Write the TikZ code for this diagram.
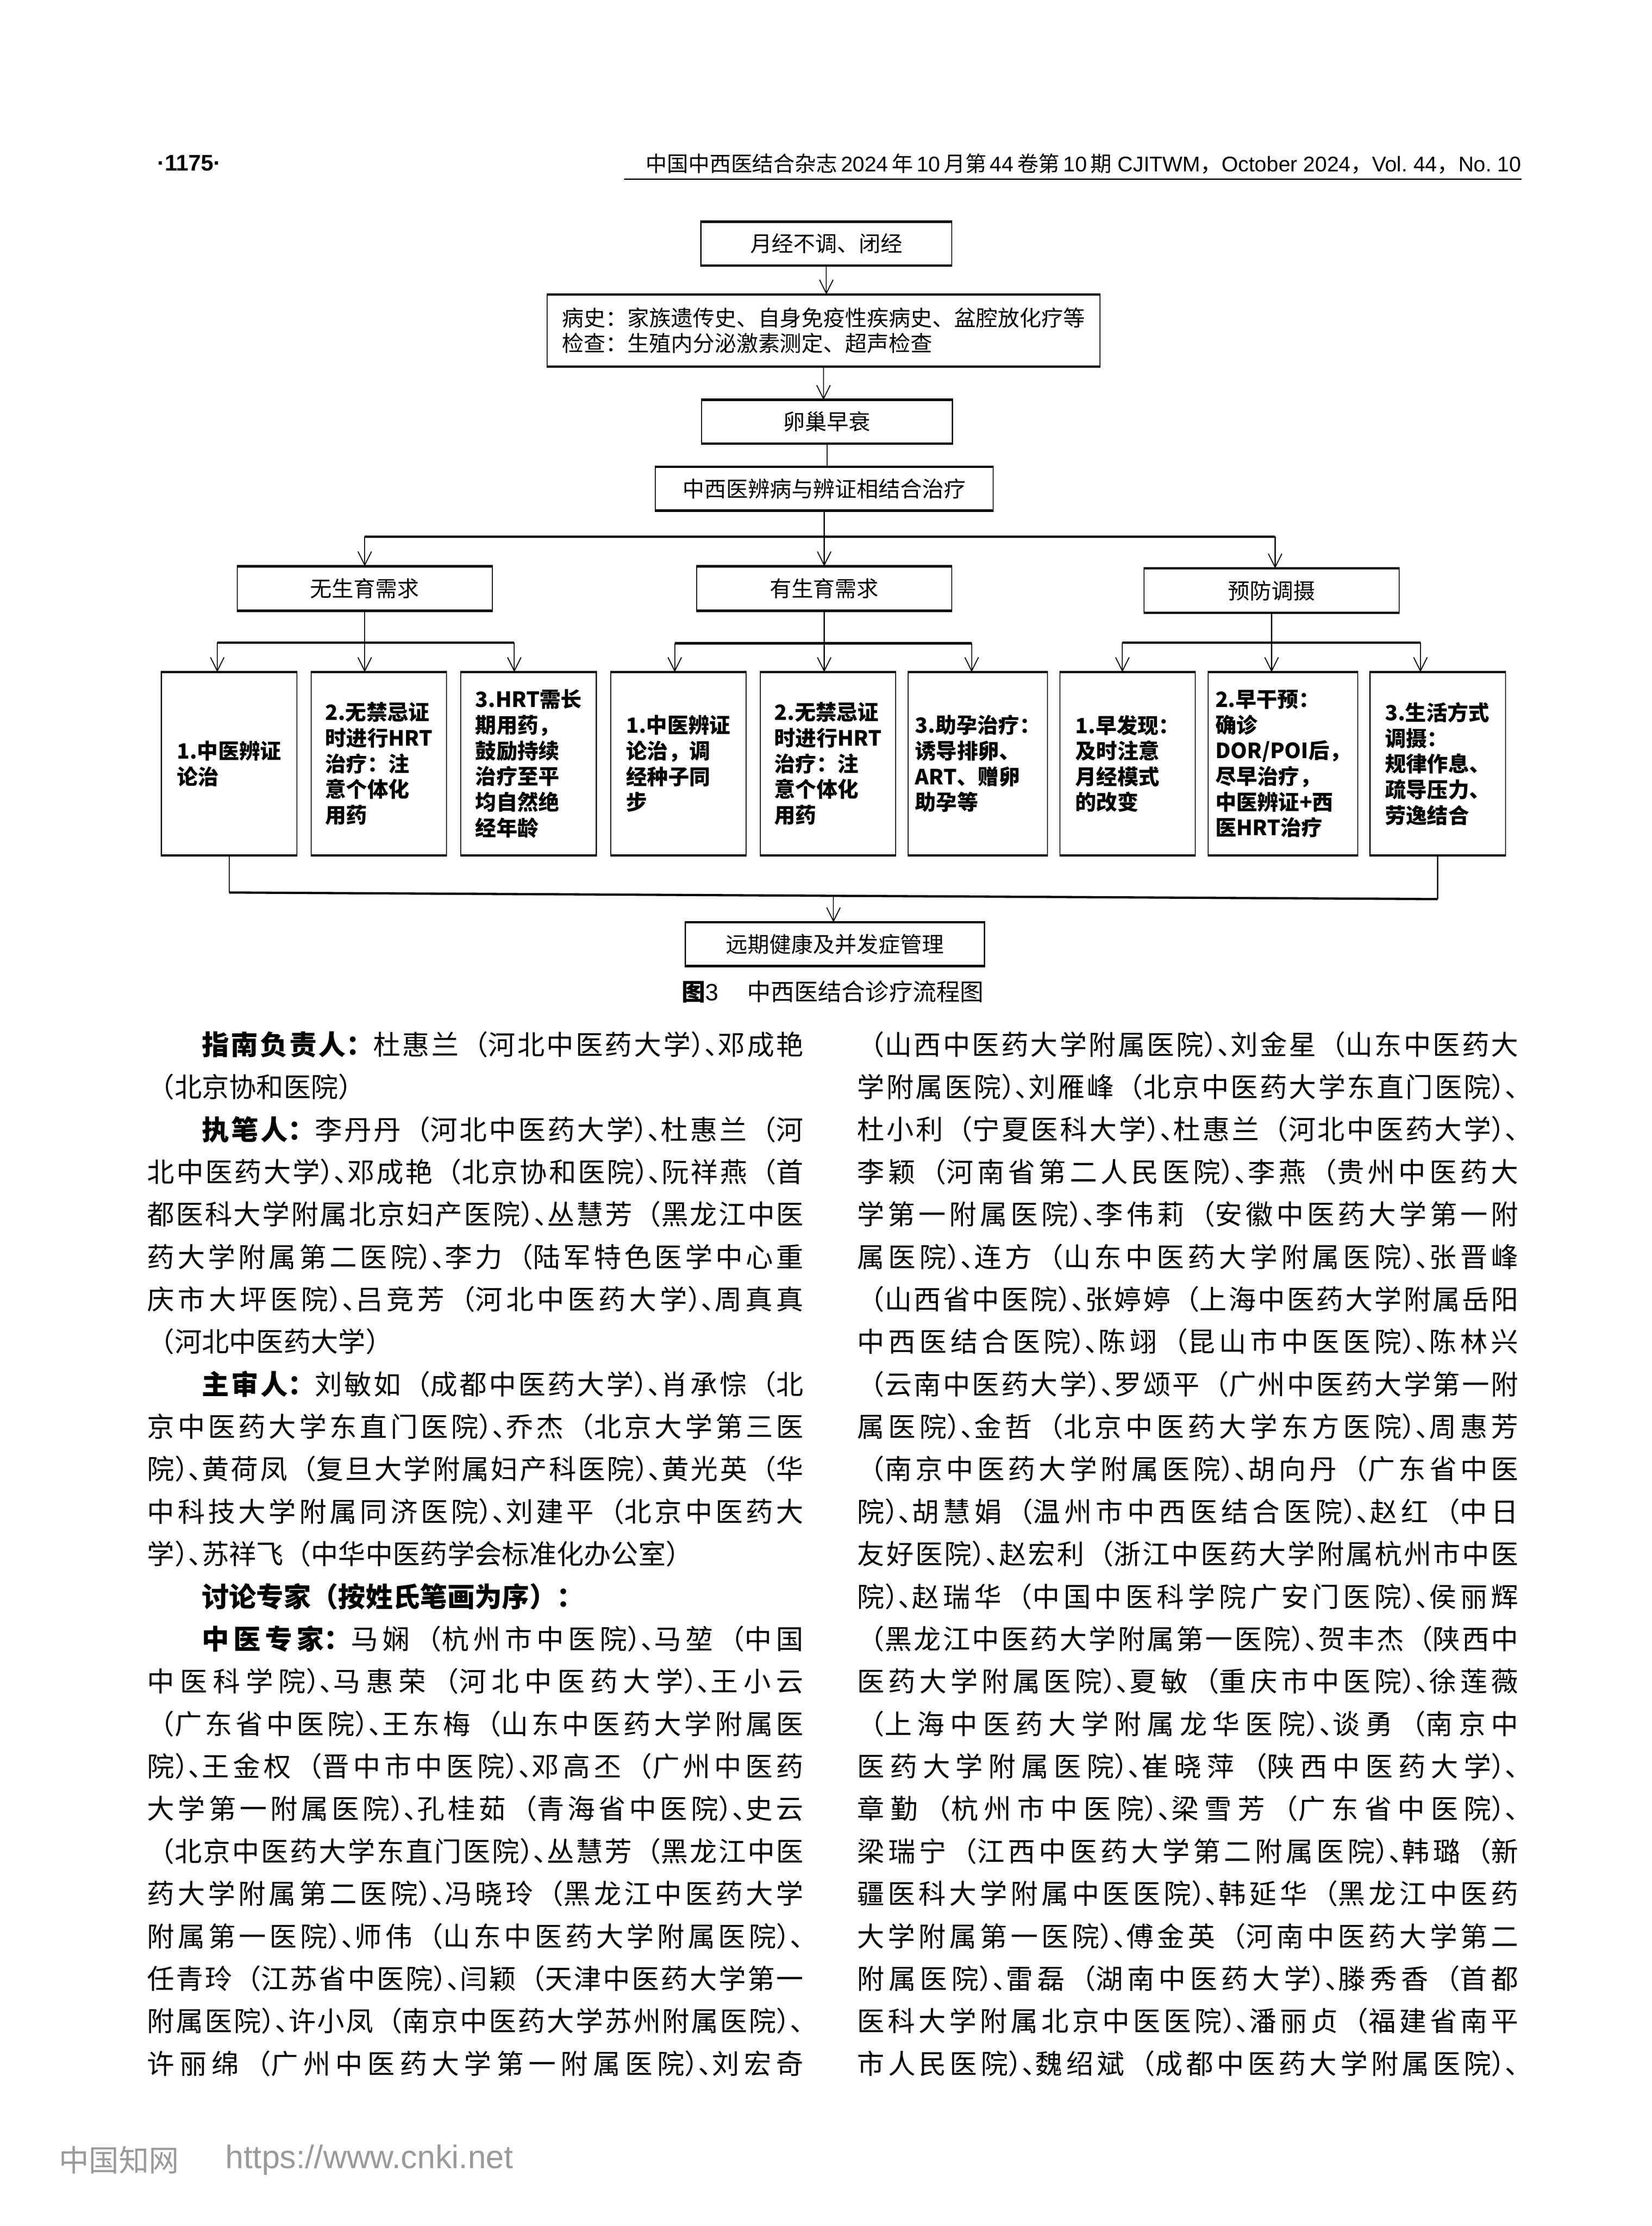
\documentclass[tikz,border=0pt]{standalone}
\usepackage{fontspec}
\setmainfont{Noto Sans CJK SC}
\newfontfamily\latin{Liberation Sans}
\usetikzlibrary{arrows.meta, positioning}
\XeTeXlinebreaklocale "zh"
\XeTeXlinebreakskip=0pt plus 5pt
\definecolor{cnkigray}{HTML}{9A9A9A}
\newcommand\boxfont{\fontsize{8.7pt}{10.1pt}\selectfont}
\newcommand\leaffont{\fontsize{8.4pt}{10.25pt}\selectfont\bfseries}
\newcommand\bodyfont{\fontsize{10.9pt}{12.5pt}\selectfont}
\newcommand\ind{\hspace*{2em}}
\newcommand\lastln[1]{\makebox[\hsize][l]{#1}}
\newcommand\closepause{\makebox[1em][l]{\makebox[0.5em][l]{）}、}}
\ExplSyntaxOn
\tl_new:N \l_squeeze_tl
\NewDocumentCommand \squeeze { m }
  {
    \tl_set:No \l_squeeze_tl { #1 }
    \tl_replace_all:Nnn \l_squeeze_tl { ）、 } { \closepause }
    \tl_use:N \l_squeeze_tl
  }
\ExplSyntaxOff
\tikzstyle{mainbox} = [rectangle, draw, line width=0.4pt, minimum width=35.2mm, minimum height=6mm, inner sep=1mm, font=\boxfont]
\tikzstyle{leaf} = [rectangle, draw, line width=0.4pt, minimum width=19mm, minimum height=25.6mm, inner sep=1mm, align=left, font=\leaffont]
\tikzstyle{rimline} = [line width=1pt]
\tikzstyle{flowline} = [line width=0.4pt]
\tikzstyle{flowarrow} = [line width=0.4pt, -{Straight Barb[length=1.9mm, width=1.9mm]}]
\tikzstyle{crossbar} = [line width=0.9pt]
\tikzstyle{bodyline} = [anchor=west, inner sep=0pt, align=justify, font=\bodyfont, execute at begin node={\noindent\parfillskip=0pt\relax}]

\begin{document}
\begin{tikzpicture}[x=0.2mm, y=-0.2mm, node distance=21.02mm]
\fill[white] (0,0) rectangle (1159.5,1562.3);

\node (pageno) [anchor=west, inner sep=0pt, font=\latin\bfseries\fontsize{9pt}{10pt}\selectfont] at (110,114.5) {·1175·};
\node (journal) [anchor=east, inner sep=0pt, font=\fontsize{8.5pt}{10pt}\selectfont] at (1068,115) {中国中西医结合杂志{\latin\,2024\,}年{\latin\,10\,}月第{\latin\,44\,}卷第{\latin\,10\,}期{\latin\ CJITWM}，{\latin October 2024}，{\latin Vol.\ 44}，{\latin No.\ 10}};
\coordinate (rulel) at (438,125.7);
\coordinate (ruler) at (1068,125.7);
\draw[line width=0.5pt] (rulel) -- (ruler);

\node (sym) [mainbox] at (580,171) {月经不调、闭经};
\node (hist) [mainbox, minimum width=77.6mm, minimum height=10mm, align=left] at (578,232) {病史：家族遗传史、自身免疫性疾病史、盆腔放化疗等\\检查：生殖内分泌激素测定、超声检查};
\node (poi) [mainbox] at (580.5,296) {卵巢早衰};
\node (integ) [mainbox, minimum width=47.4mm] at (578.5,343) {中西医辨病与辨证相结合治疗};
\node (nofert) [mainbox, minimum width=35.8mm, minimum height=6.1mm] at (256,413) {无生育需求};
\node (fert) [mainbox, minimum width=35.8mm, minimum height=6.1mm] at (578.5,413) {有生育需求};
\node (prev) [mainbox, minimum width=35.8mm, minimum height=6.1mm] at (892.5,414.5) {预防调摄};

\node (t1) [leaf] at (160.8,536) {1.中医辨证\\论治};
\node (t2) [leaf, right of=t1] {2.无禁忌证\\时进行HRT\\治疗：注\\意个体化\\用药};
\node (t3) [leaf, right of=t2] {3.HRT需长\\期用药，\\鼓励持续\\治疗至平\\均自然绝\\经年龄};
\node (t4) [leaf, right of=t3] {1.中医辨证\\论治，调\\经种子同\\步};
\node (t5) [leaf, right of=t4] {2.无禁忌证\\时进行HRT\\治疗：注\\意个体化\\用药};
\node (t6) [leaf, right of=t5] {3.助孕治疗：\\诱导排卵、\\ART、赠卵\\助孕等};
\node (t7) [leaf, right of=t6] {1.早发现：\\及时注意\\月经模式\\的改变};
\node (t8) [leaf, right of=t7, xshift=0.8mm, minimum width=20.2mm] {2.早干预：\\确诊\\DOR/POI后，\\尽早治疗，\\中医辨证+西\\医HRT治疗};
\node (t9) [leaf, right of=t8, xshift=0.7mm] {3.生活方式\\调摄：\\规律作息、\\疏导压力、\\劳逸结合};

\node (fup) [mainbox, minimum width=42mm] at (586,662.6) {远期健康及并发症管理};

\foreach \n in {sym,hist,poi,integ,nofert,fert,prev,t1,t2,t3,t4,t5,t6,t7,t8,t9,fup}
  \draw[rimline] (\n.north west) -- (\n.north east) (\n.south west) -- (\n.south east);

\draw[flowarrow] (sym.south) -- (sym.south |- hist.north);
\draw[flowarrow] (hist.south) -- (hist.south |- poi.north);
\draw[flowline] (poi.south) -- (poi.south |- integ.north);

\coordinate (top0) at (256,376.6);
\coordinate (top1) at (895,376.6);
\draw[crossbar] (top0) -- (top1);
\draw[flowarrow] (integ.south) -- (integ.south |- fert.north);
\draw[flowarrow] (top0) -- (top0 |- nofert.north);
\draw[flowarrow] (top1) -- (top1 |- prev.north);

\coordinate (g1l) at (152.5,451);
\coordinate (g1r) at (361,451);
\coordinate (g2l) at (473.6,451.5);
\coordinate (g2r) at (682,451.5);
\coordinate (g3l) at (787.8,451);
\coordinate (g3r) at (997,451);
\draw[crossbar] (g1l) -- (g1r);
\draw[crossbar] (g2l) -- (g2r);
\draw[crossbar] (g3l) -- (g3r);
\draw[flowarrow] (nofert.south) -- (nofert.south |- t2.north);
\draw[flowarrow] (g1l) -- (g1l |- t1.north);
\draw[flowarrow] (g1r) -- (g1r |- t3.north);
\draw[flowarrow] (fert.south) -- (fert.south |- t5.north);
\draw[flowarrow] (g2l) -- (g2l |- t4.north);
\draw[flowarrow] (g2r) -- (g2r |- t6.north);
\draw[flowarrow] (prev.south) -- (prev.south |- t8.north);
\draw[flowarrow] (g3l) -- (g3l |- t7.north);
\draw[flowarrow] (g3r) -- (g3r |- t9.north);

\coordinate (bl) at (159.5,626.4);
\coordinate (br) at (1010,631);
\coordinate (bm) at (585,628.7);
\draw[flowline] (t1.south) -- (t1.south |- bl);
\draw[flowline] (t9.south) -- (t9.south |- br);
\draw[crossbar] (t1.south |- bl) -- (t9.south |- br);
\draw[flowarrow] (bm) -- (bm |- fup.north);

\node (cap) [font=\fontsize{9.45pt}{11pt}\selectfont] at (584.5,696) {\textbf{图}{\latin 3}\hspace{1.2em}中西医结合诊疗流程图};

\foreach \txt [count=\k] in {
{\ind\textbf{指南负责人：}杜惠兰（河北中医药大学）、邓成艳},
{\lastln{（北京协和医院）}},
{\ind\textbf{执笔人：}李丹丹（河北中医药大学）、杜惠兰（河},
{北中医药大学）、邓成艳（北京协和医院）、阮祥燕（首},
{都医科大学附属北京妇产医院）、丛慧芳（黑龙江中医},
{药大学附属第二医院）、李力（陆军特色医学中心重},
{庆市大坪医院）、吕竞芳（河北中医药大学）、周真真},
{\lastln{（河北中医药大学）}},
{\ind\textbf{主审人：}刘敏如（成都中医药大学）、肖承悰（北},
{京中医药大学东直门医院）、乔杰（北京大学第三医},
{院）、黄荷凤（复旦大学附属妇产科医院）、黄光英（华},
{中科技大学附属同济医院）、刘建平（北京中医药大},
{\lastln{学\closepause 苏祥飞（中华中医药学会标准化办公室）}},
{\lastln{\ind\textbf{讨论专家（按姓氏笔画为序）：}}},
{\ind\textbf{中医专家：}马娴（杭州市中医院）、马堃（中国},
{中医科学院）、马惠荣（河北中医药大学）、王小云},
{（广东省中医院）、王东梅（山东中医药大学附属医},
{院）、王金权（晋中市中医院）、邓高丕（广州中医药},
{大学第一附属医院）、孔桂茹（青海省中医院）、史云},
{（北京中医药大学东直门医院）、丛慧芳（黑龙江中医},
{药大学附属第二医院）、冯晓玲（黑龙江中医药大学},
{附属第一医院）、师伟（山东中医药大学附属医院）、},
{任青玲（江苏省中医院）、闫颖（天津中医药大学第一},
{附属医院）、许小凤（南京中医药大学苏州附属医院）、},
{许丽绵（广州中医药大学第一附属医院）、刘宏奇}}
  \node (lcol\k) [bodyline, text width=92.14mm] at (103,{733+29.8*(\k-1)}) {\squeeze{\txt}};

\foreach \txt [count=\k] in {
{（山西中医药大学附属医院）、刘金星（山东中医药大},
{学附属医院）、刘雁峰（北京中医药大学东直门医院）、},
{杜小利（宁夏医科大学）、杜惠兰（河北中医药大学）、},
{李颖（河南省第二人民医院）、李燕（贵州中医药大},
{学第一附属医院）、李伟莉（安徽中医药大学第一附},
{属医院）、连方（山东中医药大学附属医院）、张晋峰},
{（山西省中医院）、张婷婷（上海中医药大学附属岳阳},
{中西医结合医院）、陈翊（昆山市中医医院）、陈林兴},
{（云南中医药大学）、罗颂平（广州中医药大学第一附},
{属医院）、金哲（北京中医药大学东方医院）、周惠芳},
{（南京中医药大学附属医院）、胡向丹（广东省中医},
{院）、胡慧娟（温州市中西医结合医院）、赵红（中日},
{友好医院）、赵宏利（浙江中医药大学附属杭州市中医},
{院）、赵瑞华（中国中医科学院广安门医院）、侯丽辉},
{（黑龙江中医药大学附属第一医院）、贺丰杰（陕西中},
{医药大学附属医院）、夏敏（重庆市中医院）、徐莲薇},
{（上海中医药大学附属龙华医院）、谈勇（南京中},
{医药大学附属医院）、崔晓萍（陕西中医药大学）、},
{章勤（杭州市中医院）、梁雪芳（广东省中医院）、},
{梁瑞宁（江西中医药大学第二附属医院）、韩璐（新},
{疆医科大学附属中医医院）、韩延华（黑龙江中医药},
{大学附属第一医院）、傅金英（河南中医药大学第二},
{附属医院）、雷磊（湖南中医药大学）、滕秀香（首都},
{医科大学附属北京中医医院）、潘丽贞（福建省南平},
{市人民医院）、魏绍斌（成都中医药大学附属医院）、}}
  \node (rcol\k) [bodyline, text width=92.82mm] at (601.4,{733+29.8*(\k-1)}) {\squeeze{\txt}};

\node (cnki) [anchor=west, inner sep=0pt, text=cnkigray, font=\fontsize{12pt}{14pt}\selectfont] at (41,1516) {中国知网};
\node (url) [anchor=west, inner sep=0pt, text=cnkigray, font=\latin\fontsize{13pt}{15pt}\selectfont] at (158,1516) {https://www.cnki.net};
\end{tikzpicture}
\end{document}
